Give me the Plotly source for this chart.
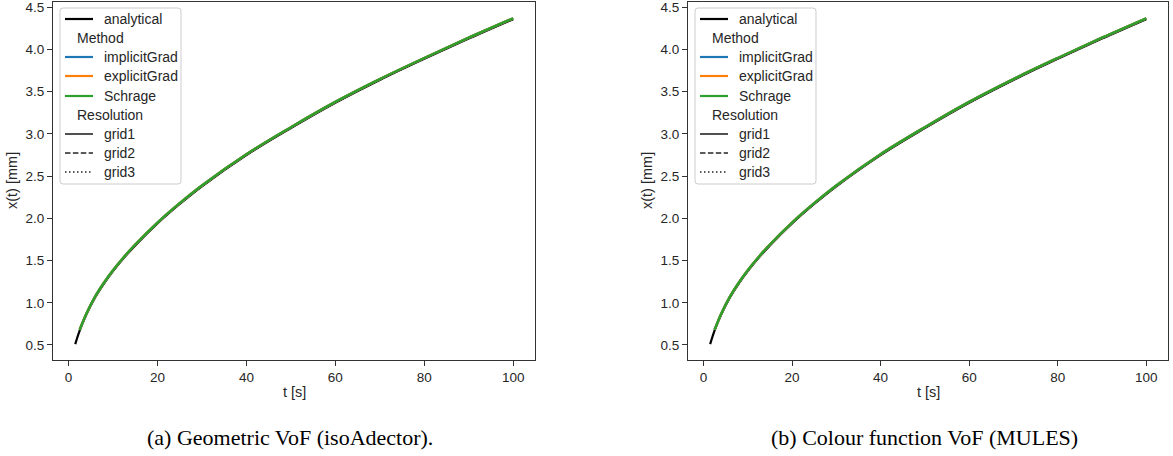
import plotly.graph_objects as go

W, H = 1173, 456

# Interface position over time: analytical reference
t_analytical = [1.5, 2.5, 4, 6, 8, 10, 12.5, 15, 20, 25, 30, 40, 50, 60, 70, 80, 90, 100]
x_analytical = [0.51, 0.67, 0.86, 1.065, 1.23, 1.375, 1.535, 1.68, 1.94, 2.17, 2.38, 2.75,
                3.07, 3.37, 3.64, 3.89, 4.13, 4.36]

# Simulated interface position (grid1), geometric VoF (isoAdvector)
t_sim = [2.5, 4, 6, 8, 10, 12.5, 15, 20, 25, 30, 40, 50, 60, 70, 80, 90, 100]
x_iso_implicit = [0.68, 0.87, 1.075, 1.24, 1.385, 1.545, 1.69, 1.95, 2.18, 2.39, 2.76, 3.08, 3.38, 3.65, 3.90, 4.14, 4.37]
x_iso_explicit = [0.68, 0.87, 1.075, 1.24, 1.385, 1.545, 1.69, 1.95, 2.18, 2.39, 2.76, 3.08, 3.38, 3.65, 3.90, 4.14, 4.37]
x_iso_schrage = [0.68, 0.87, 1.075, 1.24, 1.385, 1.545, 1.69, 1.95, 2.18, 2.39, 2.76, 3.08, 3.38, 3.65, 3.90, 4.14, 4.37]

# Simulated interface position (grid1), colour function VoF (MULES)
x_mules_implicit = [0.68, 0.87, 1.075, 1.24, 1.385, 1.545, 1.69, 1.95, 2.18, 2.39, 2.76, 3.08, 3.38, 3.65, 3.90, 4.14, 4.37]
x_mules_explicit = [0.68, 0.87, 1.075, 1.24, 1.385, 1.545, 1.69, 1.95, 2.18, 2.39, 2.76, 3.08, 3.38, 3.65, 3.90, 4.14, 4.37]
x_mules_schrage = [0.68, 0.87, 1.075, 1.24, 1.385, 1.545, 1.69, 1.95, 2.18, 2.39, 2.76, 3.08, 3.38, 3.65, 3.90, 4.14, 4.37]

method_names = ["implicitGrad", "explicitGrad", "Schrage"]
method_colors = ["#1f77b4", "#ff7f0e", "#2ca02c"]
grid_names = ["grid1", "grid2", "grid3"]
grid_dashes = ["solid", "5.5px,2.4px", "1.5px,2.5px"]

x_ticks = [0, 20, 40, 60, 80, 100]
y_ticks = [0.5, 1.0, 1.5, 2.0, 2.5, 3.0, 3.5, 4.0, 4.5]
y_tick_text = ["0.5", "1.0", "1.5", "2.0", "2.5", "3.0", "3.5", "4.0", "4.5"]

captions = ["(a) Geometric VoF (isoAdector).", "(b) Colour function VoF (MULES)"]

SANS = "Liberation Sans"
SERIF = "Liberation Serif"
INK = "#262626"
SPINE = "#333333"

# Panel placement in pixels (left, right of each axes box) and shared top/bottom
panels = [(53, 535), (688, 1168)]
top_px, bottom_px = 2, 360


def px(x):
    return x / W


def py(y):
    return 1 - y / H


fig = go.Figure()

panel_series = [
    [x_iso_implicit, x_iso_explicit, x_iso_schrage],
    [x_mules_implicit, x_mules_explicit, x_mules_schrage],
]

for i, series in enumerate(panel_series):
    xa = "x" if i == 0 else "x2"
    ya = "y" if i == 0 else "y2"
    fig.add_trace(go.Scatter(
        x=t_analytical, y=x_analytical, mode="lines",
        line=dict(color="black", width=2.2, shape="spline", smoothing=1.0),
        xaxis=xa, yaxis=ya, showlegend=False, hoverinfo="skip"))
    for vals, color in zip(series, method_colors):
        fig.add_trace(go.Scatter(
            x=t_sim, y=vals, mode="lines",
            line=dict(color=color, width=2.4, shape="spline", smoothing=1.0,
                      dash=grid_dashes[0]),
            xaxis=xa, yaxis=ya, showlegend=False, hoverinfo="skip"))


def axis_style(domain, anchor, rng, tickvals, ticktext=None):
    d = dict(
        domain=domain, anchor=anchor, range=rng,
        showline=True, linecolor=SPINE, linewidth=1.25, mirror=True,
        ticks="outside", ticklen=5, tickwidth=1.25, tickcolor=SPINE,
        showgrid=False, zeroline=False, automargin=False,
        tickvals=tickvals,
        tickfont=dict(family=SANS, size=13.5, color=INK),
    )
    if ticktext is not None:
        d["ticktext"] = ticktext
    return d


y_domain = [py(bottom_px), py(top_px)]
x_range = [-3.5, 104.9]
y_range = [0.322, 4.563]

fig.update_layout(
    width=W, height=H,
    margin=dict(l=0, r=0, t=0, b=0, pad=0),
    paper_bgcolor="white", plot_bgcolor="white",
    showlegend=False,
    xaxis=axis_style([px(panels[0][0]), px(panels[0][1])], "y", x_range, x_ticks),
    yaxis=axis_style(y_domain, "x", y_range, y_ticks, y_tick_text),
    xaxis2=axis_style([px(panels[1][0]), px(panels[1][1])], "y2", x_range, x_ticks),
    yaxis2=axis_style(y_domain, "x2", y_range, y_ticks, y_tick_text),
)

shapes = []
annotations = []


def rounded_rect(x0, y0, x1, y1, r):
    pts = [
        ("M", [(x0 + r, y0)]), ("L", [(x1 - r, y0)]), ("Q", [(x1, y0), (x1, y0 + r)]),
        ("L", [(x1, y1 - r)]), ("Q", [(x1, y1), (x1 - r, y1)]),
        ("L", [(x0 + r, y1)]), ("Q", [(x0, y1), (x0, y1 - r)]),
        ("L", [(x0, y0 + r)]), ("Q", [(x0, y0), (x0 + r, y0)]),
    ]
    out = []
    for cmd, coords in pts:
        out.append(cmd + " " + " ".join(f"{px(a):.6f},{py(b):.6f}" for a, b in coords))
    return " ".join(out) + " Z"


def add_text(x, y, text, size=14, family=SANS, color=INK, xanchor="left", angle=0):
    annotations.append(dict(
        x=px(x), y=py(y), xref="paper", yref="paper", text=text, showarrow=False,
        xanchor=xanchor, yanchor="middle", textangle=angle,
        font=dict(family=family, size=size, color=color)))


def add_handle(x0, y, color, width, dash="solid"):
    shapes.append(dict(
        type="line", xref="paper", yref="paper",
        x0=px(x0 + 12), x1=px(x0 + 40), y0=py(y), y1=py(y),
        line=dict(color=color, width=width, dash=dash)))


row_y = [19, 38, 57, 76, 96, 115, 134, 153, 172]

for i, (left, right) in enumerate(panels):
    # Legend frame
    shapes.append(dict(
        type="path", xref="paper", yref="paper",
        path=rounded_rect(left + 7, 8, left + 128, 184, 3),
        fillcolor="rgba(255,255,255,0.8)", line=dict(color="#cccccc", width=1)))

    add_handle(left, row_y[0], "black", 2.2)
    add_text(left + 49, row_y[0], "analytical")
    add_text(left + 22, row_y[1], "Method")
    for k, (name, color) in enumerate(zip(method_names, method_colors)):
        add_handle(left, row_y[2 + k], color, 2.2)
        add_text(left + 49, row_y[2 + k], name)
    add_text(left + 22, row_y[5], "Resolution")
    for k, (name, dash) in enumerate(zip(grid_names, grid_dashes)):
        add_handle(left, row_y[6 + k], "#262626", 1.6, dash)
        add_text(left + 49, row_y[6 + k], name)

    centre = (left + right) / 2
    # Axis titles
    add_text(centre, 392, "t [s]", size=14.5, xanchor="center")
    add_text(left - 41, (top_px + bottom_px) / 2, "x(t) [mm]", size=14.5,
             xanchor="center", angle=-90)
    # Panel caption
    add_text(centre - 4, 437, captions[i], size=22, family=SERIF, color="black",
             xanchor="center")

fig.update_layout(shapes=shapes, annotations=annotations)

fig.write_html("out.html")
